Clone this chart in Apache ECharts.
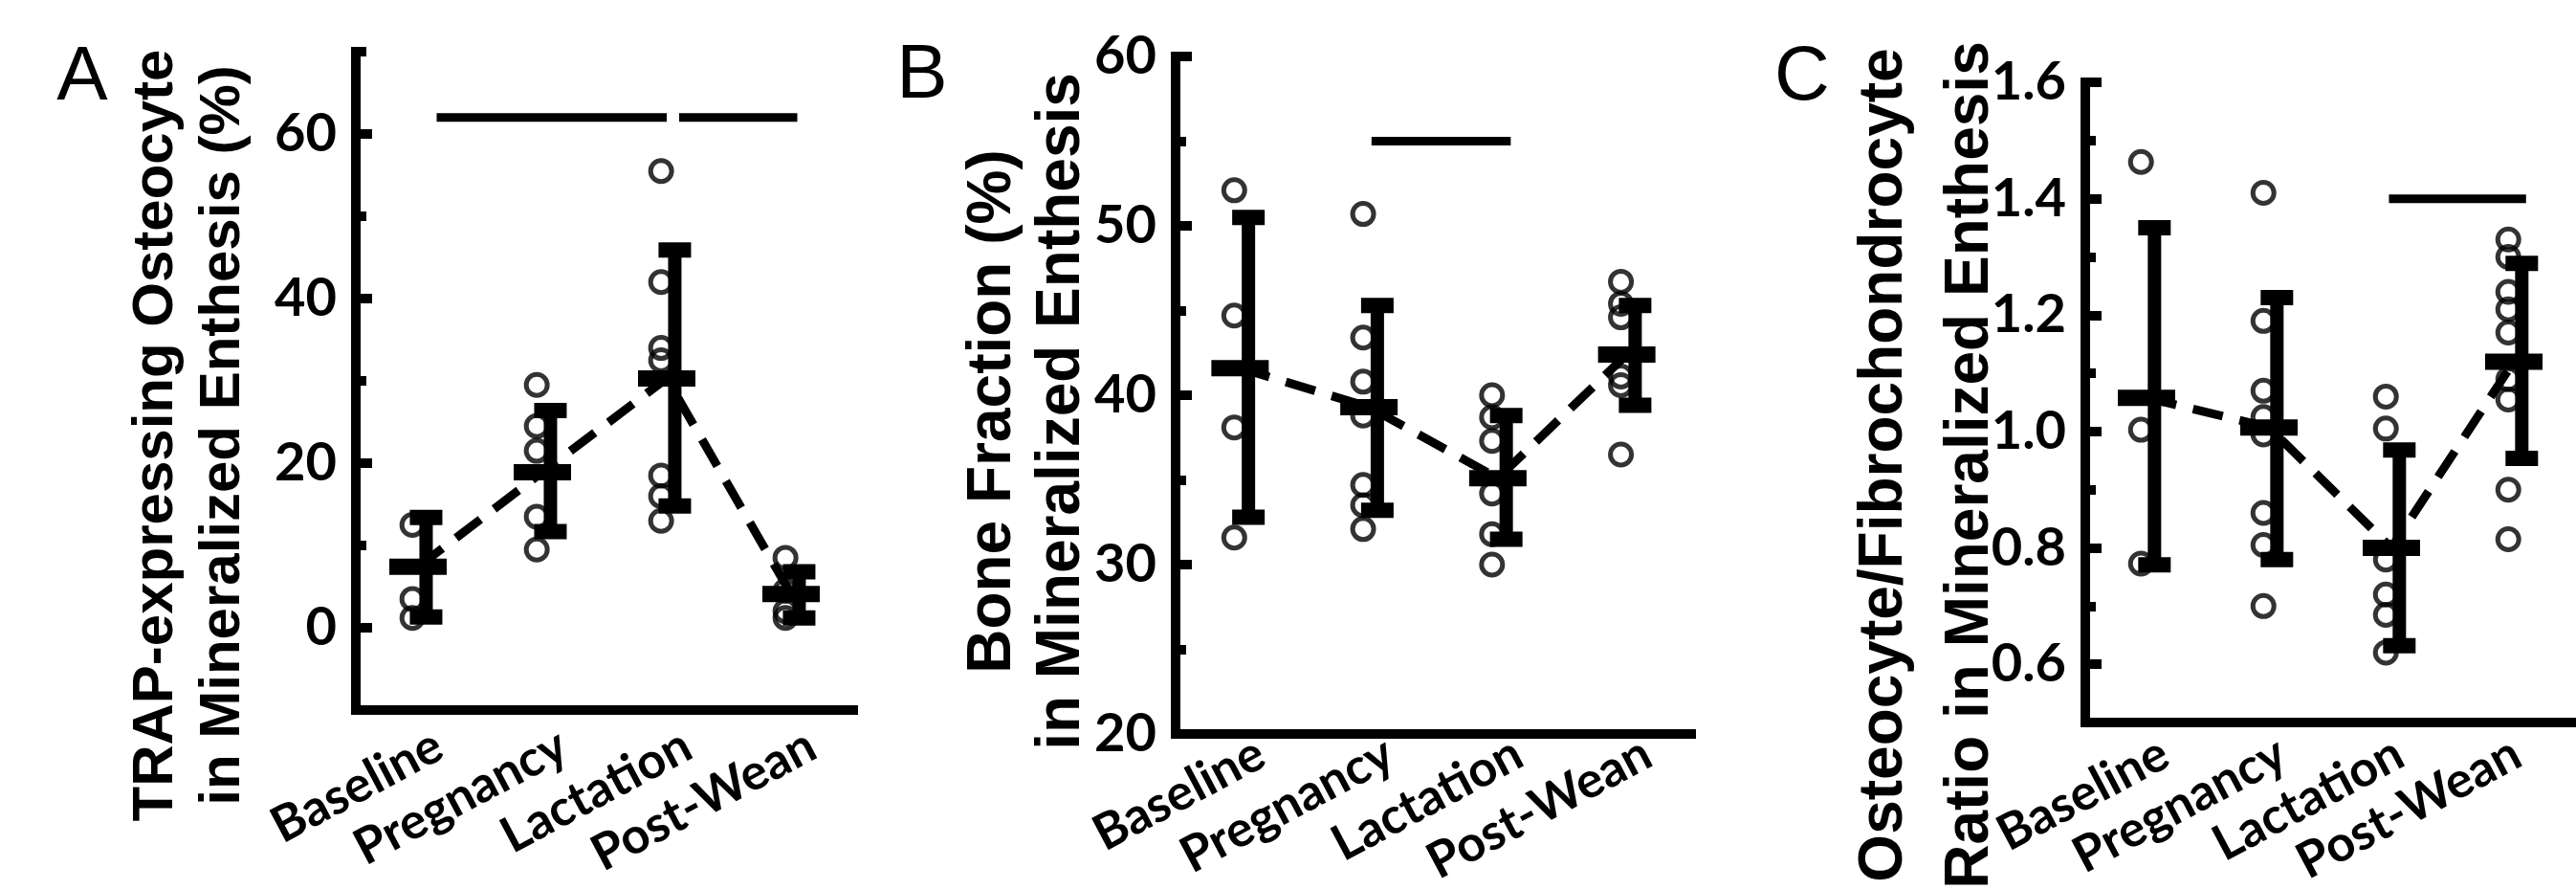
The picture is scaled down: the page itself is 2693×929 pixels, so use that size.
<!DOCTYPE html>
<html>
<head>
<meta charset="utf-8">
<style>
  html, body { margin: 0; padding: 0; background: #fff; }
  #chart { width: 2693px; height: 929px; }
</style>
<script src="https://cdn.jsdelivr.net/npm/echarts@6.0.0/dist/echarts.min.js"></script>
</head>
<body>
<div id="chart"></div>
<script>
const categories = ["Baseline", "Pregnancy", "Lactation", "Post-Wean"];

// A: TRAP-expressing osteocytes (%)
const rangeA = [-10, 70];
const ticksA = [0, 20, 40, 60];
const meanA = [7.4, 18.9, 30.3, 4.1];
const lowA = [1.3, 11.7, 14.8, 1.2];
const highA = [13.4, 26.4, 45.9, 6.8];
const pointsA = [
  [12.5, 3.5, 1.2],
  [29.5, 24.5, 21.5, 13.5, 9.5],
  [55.5, 42, 34, 32.5, 18.5, 16, 13],
  [8.5, 4.5, 2.0, 1.2]
];
const sigA = [[1.15, 3.0, 62], [3.1, 4.05, 62]];

// B: bone fraction (%)
const rangeB = [20, 60];
const ticksB = [20, 30, 40, 50, 60];
const meanB = [41.6, 39.3, 35.1, 42.4];
const lowB = [32.8, 33.2, 31.5, 39.4];
const highB = [50.5, 45.3, 38.8, 45.3];
const pointsB = [
  [52.1, 44.7, 38.1, 31.6],
  [50.7, 43.4, 40.8, 38.8, 34.7, 33.5, 32.1],
  [40.0, 38.7, 37.3, 34.2, 31.8, 30.0],
  [46.7, 45.4, 44.6, 41.1, 40.6, 36.5]
];
const sigB = [[2.02, 3.1, 55]];

// C: osteocyte / fibrochondrocyte ratio
const rangeC = [0.5, 1.6];
const ticksC = [0.6, 0.8, 1.0, 1.2, 1.4, 1.6];
const meanC = [1.058, 1.007, 0.80, 1.12];
const lowC = [0.771, 0.78, 0.632, 0.954];
const highC = [1.35, 1.23, 0.968, 1.289];
const pointsC = [
  [1.463, 1.003, 0.773],
  [1.41, 1.19, 1.07, 1.025, 0.995, 0.86, 0.805, 0.70],
  [1.06, 1.005, 0.78, 0.72, 0.685, 0.62],
  [1.33, 1.30, 1.24, 1.21, 1.17, 1.09, 1.055, 0.90, 0.815]
];
const sigC = [[2.98, 4.1, 1.4]];

const BAR_SHIFT = 0.065;
const DOT_SHIFT = -0.045;
const LABEL_SHIFT = 22; // category labels sit a bit right of their ticks
const black = "#000";
const numFont = "Lato";
const titleFont = "Liberation Sans";

const option = { animation: false, grid: [], xAxis: [], yAxis: [], series: [], graphic: [] };

function errorItem(params, api) {
  const x = api.value(0);
  const c = api.coord([x, api.value(1)]);
  const lo = api.coord([x + BAR_SHIFT, api.value(2)]);
  const hi = api.coord([x + BAR_SHIFT, api.value(3)]);
  const fill = { fill: black };
  return {
    type: "group",
    children: [
      { type: "rect", shape: { x: hi[0] - 7, y: hi[1], width: 14, height: lo[1] - hi[1] }, style: fill },
      { type: "rect", shape: { x: hi[0] - 17, y: hi[1] - 8, width: 34, height: 16 }, style: fill },
      { type: "rect", shape: { x: lo[0] - 17, y: lo[1] - 8, width: 34, height: 16 }, style: fill },
      { type: "rect", shape: { x: c[0] - 30, y: c[1] - 8.5, width: 60, height: 17 }, style: fill }
    ]
  };
}

function addPanel(p) {
  const g = option.grid.length;
  const span = p.range[1] - p.range[0];
  const last = p.ticks[p.ticks.length - 1];
  const majorTop = p.top + ((p.range[1] - last) / span) * p.height;
  const majorBottom = p.top + ((p.range[1] - p.ticks[0]) / span) * p.height;
  option.grid.push({ left: p.left, top: p.top, width: p.width, height: p.height });
  option.grid.push({ left: p.left, top: majorTop, width: p.width, height: majorBottom - majorTop });
  option.grid.push({ left: p.left + LABEL_SHIFT, top: p.top, width: p.width, height: p.height });

  option.xAxis.push({
    type: "category",
    gridIndex: g,
    data: categories,
    axisLine: { onZero: false, lineStyle: { color: black, width: 10, cap: "square" } },
    axisTick: { inside: true, alignWithLabel: true, length: 18, lineStyle: { color: black, width: 10 } },
    axisLabel: { show: false }
  });
  const xVal = option.xAxis.length;
  option.xAxis.push({ type: "value", gridIndex: g, min: 0.5, max: 4.5, show: false });
  option.xAxis.push({ type: "value", gridIndex: g + 1, min: 0.5, max: 4.5, show: false });
  option.xAxis.push({
    type: "category",
    gridIndex: g + 2,
    data: categories,
    axisLine: { show: false, onZero: false },
    axisTick: { show: false },
    axisLabel: { interval: 0, rotate: 28, margin: 34, color: black, fontFamily: numFont, fontWeight: "bold", fontSize: 52 }
  });

  const yMain = option.yAxis.length;
  option.yAxis.push({
    type: "value",
    gridIndex: g,
    min: p.range[0],
    max: p.range[1],
    interval: p.minor,
    axisLine: { show: true, lineStyle: { color: black, width: 10, cap: "square" } },
    axisTick: { show: true, inside: true, length: 11, lineStyle: { color: black, width: 10 } },
    axisLabel: { show: false },
    splitLine: { show: false }
  });
  option.yAxis.push({
    type: "value",
    gridIndex: g + 1,
    min: p.ticks[0],
    max: last,
    interval: p.ticks[1] - p.ticks[0],
    axisLine: { show: false },
    axisTick: { show: true, inside: true, length: 17, lineStyle: { color: black, width: 10 } },
    axisLabel: {
      margin: 20, color: black, fontFamily: numFont, fontWeight: "bold", fontSize: 56,
      formatter: (v) => v.toFixed(p.decimals)
    },
    splitLine: { show: false }
  });
  option.yAxis.push({ type: "value", gridIndex: g + 2, min: p.range[0], max: p.range[1], show: false });

  p.sig.forEach((s) => {
    option.series.push({
      type: "line", xAxisIndex: xVal, yAxisIndex: yMain, symbol: "none", z: 2,
      lineStyle: { color: black, width: 9 },
      data: [[s[0], s[2]], [s[1], s[2]]]
    });
  });
  option.series.push({
    type: "line", xAxisIndex: xVal, yAxisIndex: yMain, symbol: "none", z: 2,
    lineStyle: { color: black, width: 9, type: [32, 18] },
    data: p.mean.map((m, i) => [i + 1, m])
  });
  option.series.push({
    type: "scatter", xAxisIndex: xVal, yAxisIndex: yMain, symbol: "circle", symbolSize: 22, z: 3,
    itemStyle: { color: "rgba(0,0,0,0)", borderColor: black, borderWidth: 5 },
    data: p.points.flatMap((vals, i) => vals.map((v) => [i + 1 + DOT_SHIFT, v]))
  });
  option.series.push({
    type: "custom", xAxisIndex: xVal, yAxisIndex: yMain, z: 4,
    renderItem: errorItem,
    encode: { x: 0, y: 1 },
    data: p.mean.map((m, i) => [i + 1, m, p.low[i], p.high[i]])
  });

  p.title.forEach((t, i) => {
    option.graphic.push({
      type: "text", x: p.titleX[i], y: p.titleY, rotation: Math.PI / 2,
      style: { text: t, font: `bold ${p.titleSize}px "${titleFont}"`, fill: black, align: "center", verticalAlign: "middle" }
    });
  });
  option.graphic.push({
    type: "text", x: p.letterX, y: p.letterY,
    style: { text: p.letter, font: `80px "${titleFont}"`, fill: black, align: "center", verticalAlign: "middle" }
  });
}

addPanel({
  left: 372, top: 54, width: 520, height: 688,
  range: rangeA, minor: 10, ticks: ticksA, decimals: 0,
  mean: meanA, low: lowA, high: highA, points: pointsA, sig: sigA,
  title: ["TRAP-expressing Osteocyte", "in Mineralized Enthesis (%)"],
  titleX: [163, 233], titleY: 455, titleSize: 60,
  letter: "A", letterX: 86, letterY: 82
});
addPanel({
  left: 1229, top: 59, width: 539, height: 708,
  range: rangeB, minor: 5, ticks: ticksB, decimals: 0,
  mean: meanB, low: lowB, high: highB, points: pointsB, sig: sigB,
  title: ["Bone Fraction (%)", "in Mineralized Enthesis"],
  titleX: [1038, 1110], titleY: 430, titleSize: 64,
  letter: "B", letterX: 964, letterY: 80
});
addPanel({
  left: 2180, top: 86, width: 512, height: 669,
  range: rangeC, minor: 0.1, ticks: ticksC, decimals: 1,
  mean: meanC, low: lowC, high: highC, points: pointsC, sig: sigC,
  title: ["Osteocyte/Fibrochondrocyte", "Ratio in Mineralized Enthesis"],
  titleX: [1970, 2060], titleY: 486, titleSize: 64,
  letter: "C", letterX: 1884, letterY: 82
});

const chart = echarts.init(document.getElementById("chart"));
chart.setOption(option);
window.addEventListener("resize", () => chart.resize());
</script>
</body>
</html>
